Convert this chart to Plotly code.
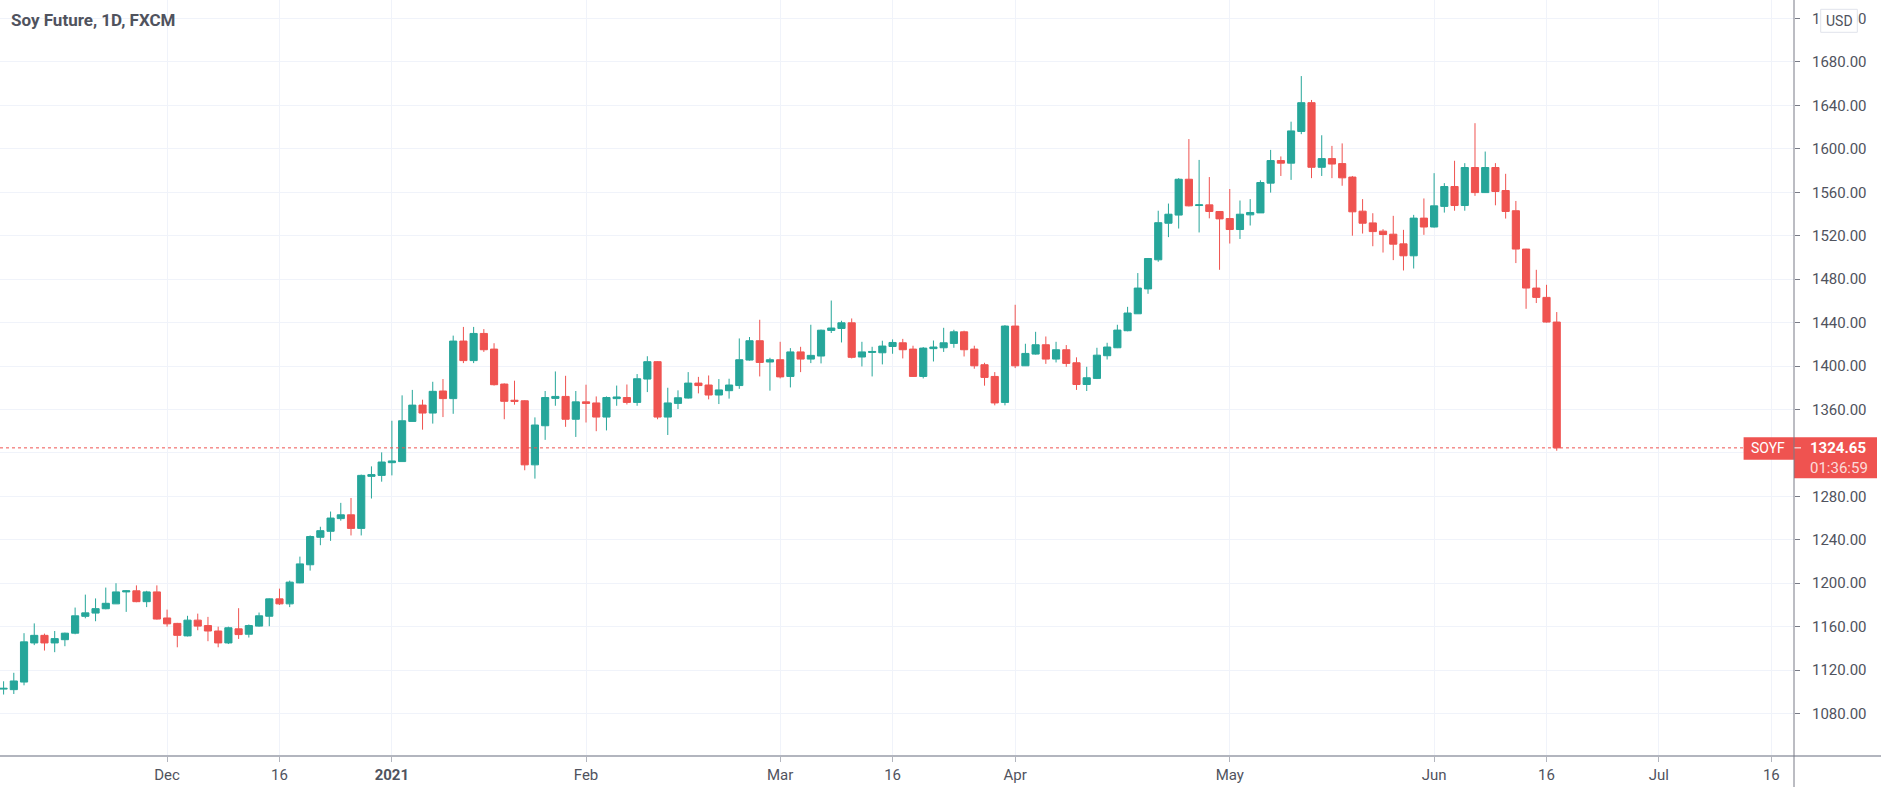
import pandas as pd
import plotly.graph_objects as go

# ---------------- data ----------------
open_ = [1102.5, 1102, 1109, 1145, 1152, 1145, 1148, 1154, 1169.5, 1172.5,
         1176.5, 1181, 1192, 1193, 1183, 1192, 1168, 1163, 1151.5, 1166,
         1161, 1156, 1145, 1158, 1153, 1160.5, 1169.6, 1185.6, 1181, 1200.3,
         1217, 1242.3, 1247.8, 1259.5, 1263, 1250.5, 1298.4, 1299.3, 1311, 1312,
         1349, 1364, 1356.7, 1377, 1370, 1423, 1405, 1430, 1415.6, 1383.4,
         1368.5, 1368, 1309, 1345, 1370.2, 1372, 1351, 1367, 1366, 1353,
         1370, 1371, 1366.5, 1388, 1404, 1353, 1365.6, 1370.5, 1384.3, 1382.5,
         1373.3, 1377.3, 1382, 1405.5, 1423.3, 1403.7, 1405.8, 1390.4, 1413, 1406.4,
         1409.2, 1432.8, 1434.6, 1439.8, 1408.3, 1412.5, 1412.2, 1418, 1421.4, 1415.6,
         1390.4, 1416, 1416.8, 1420.8, 1431.5, 1415.6, 1401.2, 1390.4, 1366.5, 1436.8,
         1400.2, 1411, 1419.6, 1406.4, 1415, 1403, 1383, 1388.6, 1409.5, 1416.8,
         1432.5, 1448.1, 1471, 1497.8, 1531.5, 1539, 1572, 1547.8, 1548.4, 1542.3,
         1535.8, 1525.7, 1539.2, 1541, 1568.4, 1589.2, 1586.8, 1616, 1642.5, 1583,
         1591, 1586.4, 1574, 1542.6, 1531.8, 1524.2, 1521.4, 1512.5, 1501.5, 1536.2,
         1528, 1547, 1565.3, 1547.8, 1582.8, 1559.7, 1582.8, 1561.6, 1543, 1507.7,
         1471.8, 1463.2, 1440.5]
high = [1109.7, 1117.5, 1154, 1163, 1153.6, 1156, 1154.5, 1177.6, 1189.5, 1186,
        1196, 1200, 1193.5, 1198, 1193, 1198, 1175.7, 1163.5, 1170, 1172,
        1169, 1160, 1160, 1177, 1162, 1173, 1186, 1195, 1202.4, 1224.5,
        1244, 1252, 1266, 1274, 1278.5, 1300, 1307.6, 1320.5, 1349.6, 1373,
        1378, 1369, 1385.5, 1388, 1428, 1436, 1436, 1434, 1421, 1384,
        1386.5, 1368.5, 1352.7, 1377, 1395, 1391, 1377, 1382.8, 1372, 1372,
        1382, 1383, 1392.6, 1409, 1404.5, 1380, 1377.6, 1394.4, 1390, 1391.3,
        1388, 1388.3, 1425.4, 1426.7, 1442.6, 1407.6, 1422.3, 1416.5, 1417.7, 1438,
        1433.5, 1460.3, 1441.7, 1443.8, 1422.3, 1417.7, 1423.3, 1424.5, 1425, 1418.7,
        1417.5, 1423.5, 1435.2, 1433.4, 1432.5, 1418.7, 1403, 1394.4, 1437.7, 1456.4,
        1420.5, 1431.5, 1427.2, 1422.3, 1419.3, 1408, 1399.3, 1416.8, 1421.4, 1438,
        1454.5, 1485.6, 1499.5, 1543, 1549.6, 1573, 1609, 1589.8, 1574, 1542.5,
        1563, 1552.4, 1553.7, 1571, 1599, 1593, 1625, 1667, 1645, 1612.5,
        1602.7, 1605, 1575, 1553.7, 1540.7, 1526, 1538.3, 1525.4, 1539.2, 1554.3,
        1577.6, 1568.4, 1589, 1586.8, 1623.6, 1597.5, 1586.8, 1577, 1552, 1508,
        1488.6, 1474.8, 1449.7]
low = [1097.5, 1098, 1106, 1143, 1138, 1136.5, 1142, 1153, 1167.7, 1165,
       1176, 1181, 1173.6, 1182.5, 1178, 1166.5, 1160, 1141, 1151, 1156.7,
       1146.6, 1141, 1144, 1148.7, 1150, 1160, 1160.4, 1180, 1178, 1200,
       1211.6, 1235, 1239, 1257.6, 1244, 1244, 1278, 1293.5, 1299.3, 1312,
       1349, 1341.4, 1347, 1353, 1356, 1402.7, 1402.7, 1413, 1382, 1351,
       1364.4, 1304, 1296.3, 1332, 1363.4, 1344, 1334.7, 1348, 1340, 1340.7,
       1363.4, 1364.6, 1363.4, 1376, 1351, 1336.5, 1360.4, 1370, 1374.8, 1369.3,
       1365, 1370, 1379, 1405, 1390.4, 1377.3, 1388.6, 1380.3, 1394.4, 1402.7,
       1402.4, 1430.4, 1421.7, 1407, 1399.6, 1390.4, 1401.5, 1411.3, 1407, 1389.9,
       1388.6, 1404.2, 1413, 1416.8, 1408.8, 1397.5, 1381.9, 1363.8, 1363.8, 1398.1,
       1400, 1410.5, 1402, 1403.3, 1399.3, 1378, 1377, 1388, 1406, 1416.5,
       1432, 1448, 1466.5, 1496, 1518.7, 1526.6, 1547, 1523, 1536, 1488.6,
       1512.8, 1517, 1529.4, 1541, 1559.7, 1575, 1571.4, 1613.5, 1573, 1575,
       1573, 1566, 1520, 1522, 1510.3, 1504.5, 1497.5, 1488, 1489.8, 1520.8,
       1527.5, 1541.3, 1543, 1543, 1556.7, 1559.5, 1548, 1535.8, 1494.8, 1452.7,
       1458, 1440, 1322]
close = [1103.2, 1110, 1146, 1152, 1145, 1149, 1154, 1170, 1172.7, 1176.6,
         1181.5, 1192, 1193, 1183, 1192, 1167, 1162.6, 1152, 1166, 1160.5,
         1156, 1145, 1159, 1152.7, 1161, 1170, 1185.6, 1181, 1201, 1217.8,
         1243, 1248.4, 1260, 1263, 1250.5, 1299.3, 1300, 1311.6, 1312.6, 1349.6,
         1364, 1356.7, 1376.7, 1370, 1423, 1405, 1430, 1415, 1382.8, 1367.5,
         1367.5, 1309, 1345.7, 1371, 1372, 1351, 1367, 1365.6, 1353, 1371,
         1371.5, 1366.5, 1388.3, 1404, 1353, 1366, 1370.8, 1384.3, 1382, 1373.3,
         1378, 1382.5, 1405.8, 1423.3, 1403.3, 1405.8, 1390, 1413, 1406.4, 1409.8,
         1433, 1435, 1439.8, 1408, 1413, 1413.4, 1418.4, 1421.7, 1415, 1390.4,
         1416.5, 1417.5, 1421.4, 1431.5, 1415, 1400.2, 1389.5, 1366, 1436.8, 1400.2,
         1411.6, 1419.6, 1406.4, 1415, 1402.4, 1383, 1389.2, 1410, 1417.5, 1433.1,
         1448.8, 1471.8, 1499, 1532, 1539.8, 1572, 1547.5, 1548.4, 1542.3, 1535.5,
         1525.7, 1539.8, 1541.4, 1569, 1589.2, 1586.8, 1616.5, 1642.5, 1583, 1591,
         1586, 1573.3, 1542, 1531.5, 1523.8, 1521.1, 1512.2, 1501.5, 1536.2, 1528,
         1547.5, 1565.3, 1547.8, 1582.8, 1559.7, 1582.8, 1560.7, 1542.3, 1507.7, 1471.8,
         1463.2, 1440.5, 1324.65]

holidays = ['2020-11-26', '2020-12-25', '2021-01-01', '2021-01-18',
            '2021-02-15', '2021-04-02', '2021-05-31']
tick_dates = ['2020-12-01', '2020-12-16', '2021-01-04', '2021-02-01', '2021-03-01',
              '2021-03-16', '2021-04-01', '2021-05-03', '2021-06-01', '2021-06-16',
              '2021-07-01', '2021-07-16']
tick_labels = ['Dec', '16', '<b>2021</b>', 'Feb', 'Mar', '16', 'Apr', 'May',
               'Jun', '16', 'Jul', '16']
price_ticks = list(range(1080, 1721, 40))

title_text = 'Soy Future, 1D, FXCM'
symbol = 'SOYF'
countdown = '01:36:59'
currency = 'USD'

# ---------------- build ----------------
days = [d.strftime('%Y-%m-%d') for d in pd.bdate_range('2020-11-06', '2021-07-30')]
days = [d for d in days if d not in holidays]
dates = days[:len(close)]
bar_idx = list(range(len(close)))
tickvals = [days.index(d) for d in tick_dates]

UP = '#26a69a'
DOWN = '#ef5350'
GRID = '#f0f3fa'
TXT = '#50535e'
FONT = 'Roboto'

W, H = 1881, 787
ML, MR, MT, MB = 0, 87, 0, 31
PW = W - ML - MR
PH = H - MT - MB

last = close[-1]
# the tick label hidden under the last-price badge is left blank
price_text = ['' if abs(v - last) < 12 else f'{v:.2f}' for v in price_ticks]

fig = go.Figure()
fig.add_trace(go.Candlestick(
    x=bar_idx, open=open_, high=high, low=low, close=close,
    text=dates, hoverinfo='text+y',
    increasing=dict(line=dict(color=UP, width=1), fillcolor=UP),
    decreasing=dict(line=dict(color=DOWN, width=1), fillcolor=DOWN),
    whiskerwidth=0, showlegend=False,
))

px_per_unit = PH / (1737.05 - 1040.9)

fig.update_layout(
    width=W, height=H,
    margin=dict(l=ML, r=MR, t=MT, b=MB),
    paper_bgcolor='white', plot_bgcolor='white',
    boxgap=0.3, boxgroupgap=0,
    xaxis=dict(
        range=[-0.352, 175.22],
        tickmode='array', tickvals=tickvals, ticktext=tick_labels,
        showgrid=True, gridcolor=GRID, gridwidth=1,
        ticks='outside', ticklen=5, tickcolor='#b2b5be',
        tickfont=dict(family=FONT, size=15, color=TXT),
        zeroline=False, showline=False, rangeslider=dict(visible=False),
        fixedrange=True,
    ),
    yaxis=dict(
        side='right', range=[1040.9, 1737.05],
        tickmode='array', tickvals=price_ticks, ticktext=price_text,
        showgrid=True, gridcolor=GRID, gridwidth=1,
        ticks='outside', ticklen=5, tickcolor='#787b86',
        ticklabelstandoff=9,
        tickfont=dict(family=FONT, size=15, color=TXT),
        zeroline=False, showline=False, fixedrange=True,
    ),
    hovermode=False,
)

box_left = 1743.6 / PW
box_right = 1877.0 / PW
top_off = 10.6 / px_per_unit
row1_off = 12.0 / px_per_unit
row2_off = 30.4 / px_per_unit

shapes = [
    # last price dotted line
    dict(type='line', xref='paper', yref='y', x0=0, x1=box_left, y0=last, y1=last,
         line=dict(color=DOWN, width=1, dash='dot'), layer='above'),
    # price label boxes
    dict(type='rect', xref='paper', yref='y', x0=box_left, x1=1.0,
         y0=last - row1_off, y1=last + top_off, fillcolor=DOWN, line=dict(width=0), layer='above'),
    dict(type='rect', xref='paper', yref='y', x0=1.0, x1=box_right,
         y0=last - row2_off, y1=last + top_off, fillcolor=DOWN, line=dict(width=0), layer='above'),
    dict(type='line', xref='paper', yref='y', x0=1.0, x1=1801 / PW, y0=last, y1=last,
         line=dict(color='white', width=1), layer='above'),
    # axis lines
    dict(type='line', xref='paper', yref='paper', x0=0, x1=W / PW, y0=0, y1=0,
         line=dict(color='#b2b5be', width=2), layer='above'),
    dict(type='line', xref='paper', yref='paper', x0=1, x1=1, y0=-MB / PH, y1=1,
         line=dict(color='#787b86', width=1), layer='above'),
    # USD box
    dict(type='rect', xref='paper', yref='paper', x0=1820.7 / PW, x1=1857.3 / PW,
         y0=(PH - 32.3) / PH, y1=(PH - 9.3) / PH,
         fillcolor='white', line=dict(color='#e0e3eb', width=1), layer='above'),
]
fig.update_layout(shapes=shapes)

annotations = [
    dict(text=f'<b>{title_text}</b>', xref='paper', yref='paper', x=9 / PW, y=(PH - 20) / PH,
         xanchor='left', yanchor='middle', showarrow=False,
         font=dict(family=FONT, size=17, color=TXT)),
    dict(text=currency, xref='paper', yref='paper', x=1839 / PW, y=(PH - 20.8) / PH,
         xanchor='center', yanchor='middle', showarrow=False,
         font=dict(family=FONT, size=14, color=TXT)),
    dict(text=symbol, xref='paper', yref='y', x=1768 / PW, y=last,
         xanchor='center', yanchor='middle', showarrow=False,
         font=dict(family=FONT, size=14, color='white')),
    dict(text=f'<b>{last:.2f}</b>', xref='paper', yref='y', x=1808 / PW, y=last,
         xanchor='left', yanchor='middle', showarrow=False,
         font=dict(family=FONT, size=15, color='white')),
    dict(text=countdown, xref='paper', yref='y', x=1808 / PW, y=last, yshift=-20,
         xanchor='left', yanchor='middle', showarrow=False,
         font=dict(family=FONT, size=15, color='rgba(255,255,255,0.8)')),
]
fig.update_layout(annotations=annotations)

fig.write_html('out.html')
